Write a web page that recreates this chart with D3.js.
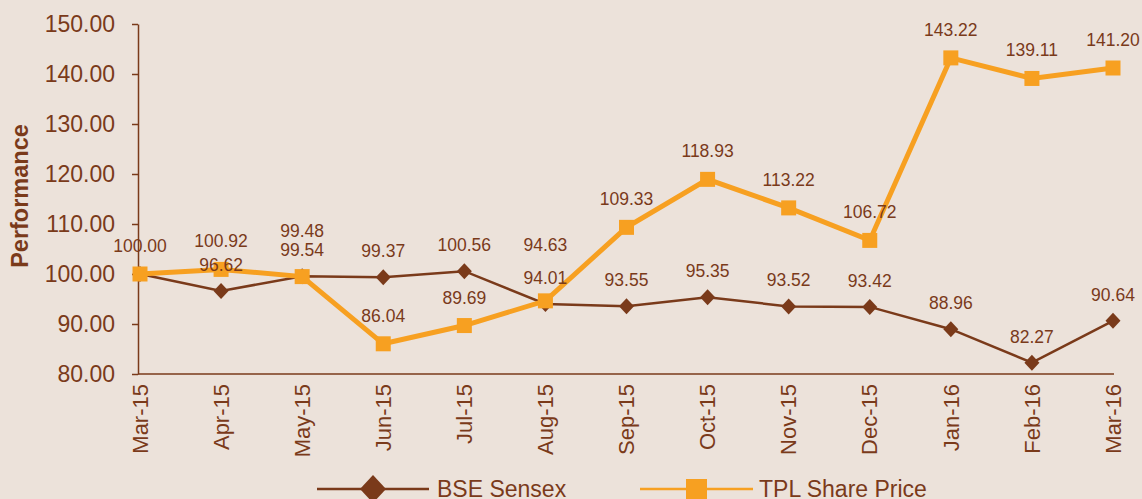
<!DOCTYPE html>
<html>
<head>
<meta charset="utf-8">
<script src="https://cdn.jsdelivr.net/npm/d3@7"></script>
<style>
  html, body { margin: 0; padding: 0; background: #ece2da; }
  svg { display: block; font-family: "Liberation Sans", Arial, sans-serif; }
</style>
</head>
<body>
<div id="chart"></div>
<script>
// data
let months = ["Mar-15", "Apr-15", "May-15", "Jun-15", "Jul-15", "Aug-15", "Sep-15",
  "Oct-15", "Nov-15", "Dec-15", "Jan-16", "Feb-16", "Mar-16"];
let bseSensex = [100.00, 96.62, 99.54, 99.37, 100.56, 94.01, 93.55, 95.35, 93.52, 93.42, 88.96, 82.27, 90.64];
let tplPrice = [100.00, 100.92, 99.48, 86.04, 89.69, 94.63, 109.33, 118.93, 113.22, 106.72, 143.22, 139.11, 141.20];
let yTicks = [80, 90, 100, 110, 120, 130, 140, 150];

// extra lift for labels that would collide (layout only)
let tplLabelLift = { "May-15": 18, "Aug-15": 28 };

let svgWidth = 1142;
let svgHeight = 499;
let brown = "#7a3a1a";
let orange = "#f7a021";

let svg = d3.select("#chart")
  .append("svg")
  .attr("width", svgWidth)
  .attr("height", svgHeight);

let x = d3.scalePoint()
  .domain(months)
  .range([140, 1113]);

let y = d3.scaleLinear()
  .domain([80, 150])
  .range([374, 24]);

// y axis
let yAxis = svg.append("g")
  .attr("transform", "translate(138,0)")
  .call(d3.axisLeft(y).tickValues(yTicks).tickSize(6).tickPadding(17)
    .tickFormat(d3.format(".2f")).tickSizeOuter(0));
yAxis.select(".domain").attr("stroke", brown).attr("stroke-width", 1.5);
yAxis.selectAll(".tick line").attr("stroke", brown).attr("stroke-width", 1.5);
yAxis.selectAll(".tick text")
  .attr("fill", brown)
  .style("font-size", "23px");

// x axis line
svg.append("line")
  .attr("x1", 138).attr("x2", 1114)
  .attr("y1", y(80)).attr("y2", y(80))
  .attr("stroke", brown)
  .attr("stroke-width", 1.5);

// x labels
svg.append("g")
  .selectAll("text")
  .data(months)
  .join("text")
  .attr("transform", d => `translate(${x(d)}, 384) rotate(-90)`)
  .attr("text-anchor", "end")
  .attr("dy", "0.35em")
  .attr("fill", brown)
  .style("font-size", "22px")
  .text(d => d);

// y axis title
svg.append("text")
  .attr("transform", "translate(28, 196) rotate(-90)")
  .attr("text-anchor", "middle")
  .attr("fill", brown)
  .style("font-size", "23.5px")
  .style("font-weight", "bold")
  .text("Performance");

let line = d3.line()
  .x((d, i) => x(months[i]))
  .y(d => y(d));

let diamond = "M0,-8L7.5,0L0,8L-7.5,0Z";

// BSE Sensex
svg.append("path")
  .datum(bseSensex)
  .attr("d", line)
  .attr("fill", "none")
  .attr("stroke", brown)
  .attr("stroke-width", 2.5);

svg.append("g")
  .selectAll("path")
  .data(bseSensex)
  .join("path")
  .attr("d", diamond)
  .attr("transform", (d, i) => `translate(${x(months[i])}, ${y(d)})`)
  .attr("fill", brown);

// TPL share price
svg.append("path")
  .datum(tplPrice)
  .attr("d", line)
  .attr("fill", "none")
  .attr("stroke", orange)
  .attr("stroke-width", 5);

svg.append("g")
  .selectAll("rect")
  .data(tplPrice)
  .join("rect")
  .attr("x", (d, i) => x(months[i]) - 7.5)
  .attr("y", d => y(d) - 7.5)
  .attr("width", 15)
  .attr("height", 15)
  .attr("fill", orange);

// data labels (the shared 100.00 at the start is shown once)
svg.append("g")
  .selectAll("text")
  .data(bseSensex.map((d, i) => ({ v: d, m: months[i] })).filter(d => d.v !== tplPrice[months.indexOf(d.m)]))
  .join("text")
  .attr("x", d => x(d.m))
  .attr("y", d => y(d.v) - 20)
  .attr("text-anchor", "middle")
  .attr("fill", brown)
  .style("font-size", "17.5px")
  .text(d => d.v.toFixed(2));

svg.append("g")
  .selectAll("text")
  .data(tplPrice)
  .join("text")
  .attr("x", (d, i) => x(months[i]))
  .attr("y", (d, i) => y(d) - 22 - (tplLabelLift[months[i]] || 0))
  .attr("text-anchor", "middle")
  .attr("fill", brown)
  .style("font-size", "17.5px")
  .text(d => d.toFixed(2));

// legend
let legend = svg.append("g");

legend.append("line")
  .attr("x1", 317).attr("x2", 429)
  .attr("y1", 489).attr("y2", 489)
  .attr("stroke", brown).attr("stroke-width", 2.5);
legend.append("path")
  .attr("d", "M0,-14L13,0L0,14L-13,0Z")
  .attr("transform", "translate(373,489)")
  .attr("fill", brown);
legend.append("text")
  .attr("x", 437).attr("y", 497)
  .attr("fill", brown)
  .style("font-size", "23px")
  .text("BSE Sensex");

legend.append("line")
  .attr("x1", 640).attr("x2", 753)
  .attr("y1", 489).attr("y2", 489)
  .attr("stroke", orange).attr("stroke-width", 2.5);
legend.append("rect")
  .attr("x", 686).attr("y", 479)
  .attr("width", 21).attr("height", 21)
  .attr("fill", orange);
legend.append("text")
  .attr("x", 759).attr("y", 497)
  .attr("fill", brown)
  .style("font-size", "23px")
  .text("TPL Share Price");
</script>
</body>
</html>
